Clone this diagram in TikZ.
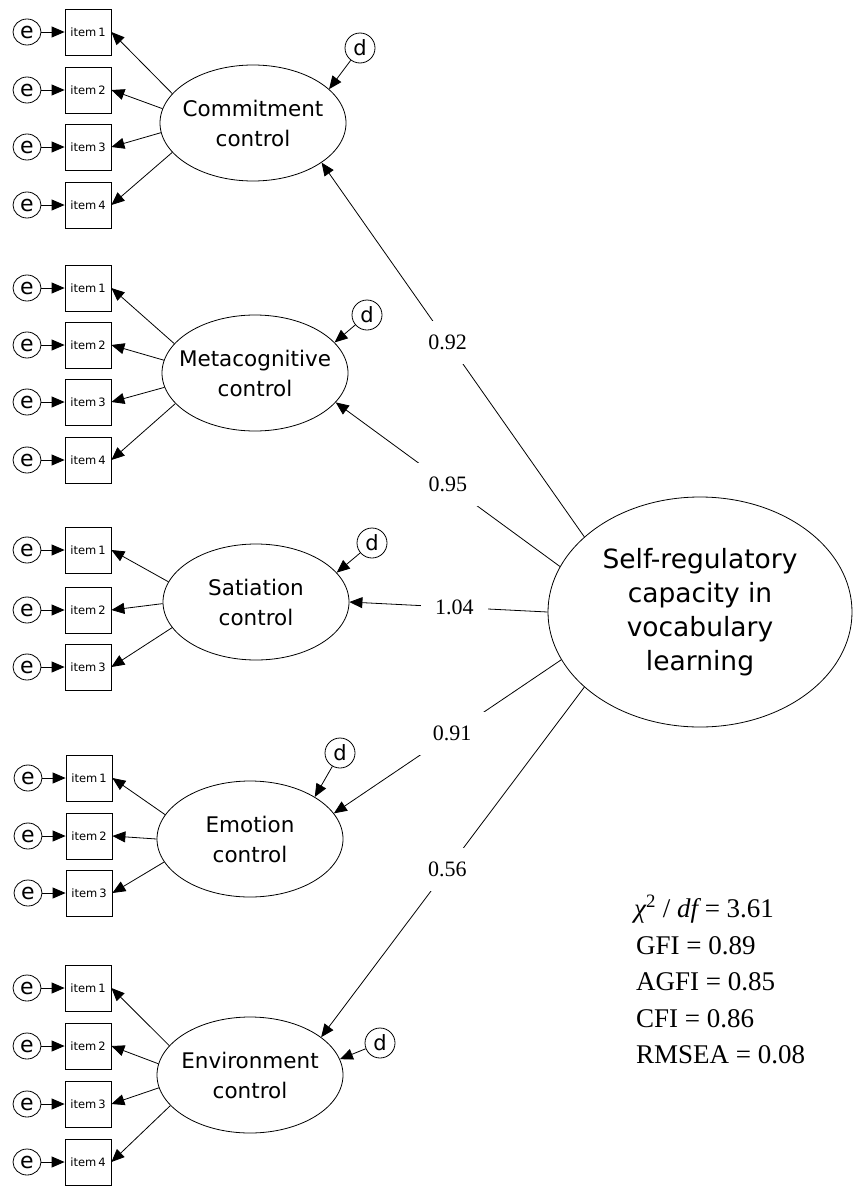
\documentclass[tikz,border=0pt]{standalone}
\usepackage{fontspec}
\usetikzlibrary{shapes.geometric,arrows.meta}
\newfontfamily\dvfont{DejaVu Sans}
\newfontfamily\tmfont{Liberation Serif}
\begin{document}
\begin{tikzpicture}[x=1pt,y=-1pt,
  lat/.style={ellipse, draw, line width=0.8pt, minimum width=186pt, minimum height=116pt, inner sep=0pt},
  lt/.style={inner sep=0pt, align=center, font=\dvfont\fontsize{21.5}{30}\selectfont},
  big/.style={ellipse, draw, line width=0.8pt, minimum width=304pt, minimum height=230pt, inner sep=0pt},
  bt/.style={inner sep=0pt, align=center, font=\dvfont\fontsize{26.5}{34}\selectfont},
  itm/.style={rectangle, draw, line width=0.8pt, minimum size=46pt, inner sep=0pt, font=\dvfont\fontsize{11.5}{13}\selectfont},
  err/.style={ellipse, draw, line width=0.8pt, minimum width=28pt, minimum height=26pt, inner sep=0pt, font=\dvfont\fontsize{22}{22}\selectfont},
  dis/.style={circle, draw, line width=0.8pt, minimum size=30pt, inner sep=0pt, font=\dvfont\fontsize{21}{22}\selectfont},
  arr/.style={-{Triangle[length=13pt,width=11pt]}, line width=0.8pt},
  lbl/.style={fill=white, inner sep=14pt, font=\tmfont\fontsize{22}{24}\selectfont},
  stat/.style={anchor=base west, inner sep=0pt, font=\tmfont\fontsize{27}{30}\selectfont}
]
\useasboundingbox[fill=white] (0,0) rectangle (857,1191);

% ---------- Group 1: Commitment ----------
\node[lat, label={[lt]center:Commitment\\control}] (C1) at (253,123) {};
\node[dis] (d1) at (360,48) {d};
\foreach \k/\y in {1/32,2/90,3/147,4/205}{
  \node[itm] (i1\k) at (88,\y) {item\,\k};
  \node[err] (e1\k) at (27,\y) {e};
  \draw[arr] (e1\k) -- (i1\k);
}
\draw[arr] (C1.160) -- (i11.east);
\draw[arr] (C1.171) -- (i12.east);
\draw[arr] (C1.186) -- (i13.east);
\draw[arr] (C1.200) -- (i14.east);
\draw[arr] (d1) -- (C1.24);

% ---------- Group 2: Metacognitive ----------
\node[lat, label={[lt]center:Metacognitive\\control}] (C2) at (255,373) {};
\node[dis] (d2) at (367,315) {d};
\foreach \k/\y in {1/288,2/345,3/402,4/460}{
  \node[itm] (i2\k) at (88,\y) {item\,\k};
  \node[err] (e2\k) at (27,\y) {e};
  \draw[arr] (e2\k) -- (i2\k);
}
\draw[arr] (C2.160) -- (i21.east);
\draw[arr] (C2.172) -- (i22.east);
\draw[arr] (C2.189) -- (i23.east);
\draw[arr] (C2.201) -- (i24.east);
\draw[arr] (d2) -- (C2.21);

% ---------- Group 3: Satiation ----------
\node[lat, label={[lt]center:Satiation\\control}] (C3) at (256,602) {};
\node[dis] (d3) at (372,543) {d};
\foreach \k/\y in {1/550,2/610,3/667}{
  \node[itm] (i3\k) at (88,\y) {item\,\k};
  \node[err] (e3\k) at (27,\y) {e};
  \draw[arr] (e3\k) -- (i3\k);
}
\draw[arr] (C3.167) -- (i31.east);
\draw[arr] (C3.181) -- (i32.east);
\draw[arr] (C3.197) -- (i33.east);
\draw[arr] (d3) -- (C3.20);

% ---------- Group 4: Emotion ----------
\node[lat, label={[lt]center:Emotion\\control}] (C4) at (250,839) {};
\node[dis] (d4) at (340,753) {d};
\foreach \k/\y in {1/778,2/836,3/893}{
  \node[itm] (i4\k) at (89,\y) {item\,\k};
  \node[err] (e4\k) at (28,\y) {e};
  \draw[arr] (e4\k) -- (i4\k);
}
\draw[arr] (C4.164) -- (i41.east);
\draw[arr] (C4.180) -- (i42.east);
\draw[arr] (C4.195) -- (i43.east);
\draw[arr] (d4) -- (C4.33);

% ---------- Group 5: Environment ----------
\node[lat, label={[lt]center:Environment\\control}] (C5) at (250,1075) {};
\node[dis] (d5) at (380,1043) {d};
\foreach \k/\y in {1/988,2/1046,3/1104,4/1162}{
  \node[itm] (i5\k) at (88,\y) {item\,\k};
  \node[err] (e5\k) at (27,\y) {e};
  \draw[arr] (e5\k) -- (i5\k);
}
\draw[arr] (C5.160) -- (i51.east);
\draw[arr] (C5.173) -- (i52.east);
\draw[arr] (C5.188) -- (i53.east);
\draw[arr] (C5.201) -- (i54.east);
\draw[arr] (d5) -- (C5.10);

% ---------- Second-order factor ----------
\node[big, label={[bt]center:Self-regulatory\\capacity in\\vocabulary\\learning}] (B) at (700,612) {};

\draw[arr] (B.147) -- node[lbl,pos=0.52] {0.92} (C1.-30);
\draw[arr] (B.162) -- node[lbl,pos=0.50] {0.95} (C2.-20);
\draw[arr] (B.180) -- node[lbl,pos=0.47] {1.04} (C3.0);
\draw[arr] (B.199) -- node[lbl,pos=0.48] {0.91} (C4.17.6);
\draw[arr] (B.213) -- node[lbl,pos=0.52] {0.56} (C5.28);

% ---------- Fit statistics ----------
\node[stat] (s1) at (634,917) {{\itshape χ}\textsuperscript{2} / {\itshape df} = 3.61};
\node[stat] (s2) at (636,954) {GFI = 0.89};
\node[stat] (s3) at (636,990) {AGFI = 0.85};
\node[stat] (s4) at (636,1027) {CFI = 0.86};
\node[stat] (s5) at (636,1063) {RMSEA = 0.08};
\end{tikzpicture}
\end{document}
